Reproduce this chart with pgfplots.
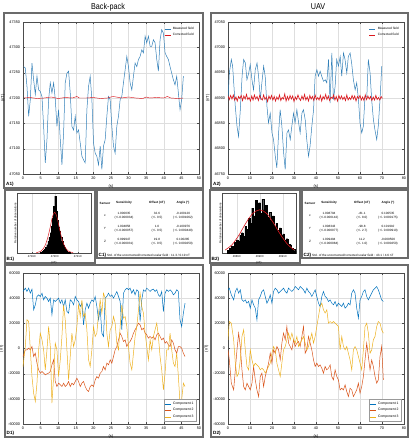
\documentclass[border=0pt]{standalone}
\usepackage{fontspec}
\setmainfont{Liberation Sans}
\usepackage{pgfplots}
\usepackage{pgfplotstable}
\pgfplotsset{compat=1.18}
\definecolor{mblue}{rgb}{0,0.447,0.741}
\definecolor{ablue}{rgb}{0.2,0.5,0.72}
\definecolor{morange}{rgb}{0.85,0.325,0.098}
\definecolor{myellow}{rgb}{0.929,0.694,0.125}
\definecolor{mred}{rgb}{0.86,0.1,0.12}
\definecolor{framegray}{gray}{0.42}

\pgfplotstableread{
t v
0.19 47262
0.66 47259
1.13 47223
1.61 47164
2.08 47197
2.55 47269
3.02 47236
3.50 47207
3.97 47243
4.44 47216
4.91 47213
5.39 47203
5.86 47144
6.33 47072
6.81 47118
7.28 47197
7.75 47230
8.22 47210
8.70 47230
9.17 47197
9.64 47144
10.11 47177
10.59 47118
11.06 47068
11.53 47131
12.00 47230
12.48 47249
12.95 47253
13.42 47210
13.89 47144
14.37 47137
14.84 47164
15.31 47131
15.78 47137
16.26 47111
16.73 47085
17.20 47078
17.67 47072
18.15 47177
18.62 47223
19.09 47243
19.57 47197
20.04 47111
20.51 47091
20.98 47085
21.46 47068
21.93 47105
22.40 47059
22.87 47105
23.35 47118
23.82 47164
24.29 47203
24.76 47197
25.24 47144
25.71 47105
26.18 47091
26.65 47144
27.13 47164
27.60 47197
28.07 47203
28.54 47230
29.02 47256
29.49 47282
29.96 47262
30.43 47230
30.91 47216
31.38 47243
31.85 47269
32.33 47262
32.80 47276
33.27 47282
33.74 47295
34.22 47289
34.69 47322
35.16 47309
35.63 47322
36.11 47302
36.58 47302
37.05 47315
37.52 47309
38.00 47276
38.47 47253
38.94 47315
39.41 47335
39.89 47328
40.36 47289
40.83 47282
41.30 47276
41.78 47262
42.25 47249
42.72 47236
43.19 47226
43.67 47243
44.14 47210
44.61 47177
45.08 47197
45.56 47243
}\tabAone

\pgfplotstableread{
t v
0.2 47200
2 47201
4 47199
6 47200
8 47202
10 47199
12 47201
14 47200
15.3 47203
16 47200
18 47200
20 47201
22 47199
24 47200
25.5 47203
26.5 47202
28 47200
30 47202
32 47200
34 47199
35 47202
36 47200
38 47201
40 47200
41 47203
42 47200
44 47199
45.5 47200
}\tabAonec

\pgfplotstableread{
t v
0.0 46897
0.6 46949
1.5 46976
2.1 46963
2.7 46923
3.3 46884
4.1 46844
4.8 46824
5.6 46877
6.4 46943
7.1 46976
7.9 46969
8.6 46936
9.4 46949
10.1 46966
10.9 46936
11.6 46916
12.4 46956
13.2 46969
13.9 46943
14.7 46897
15.4 46930
16.2 46963
16.9 46943
17.7 46884
18.4 46851
19.2 46870
20.0 46831
20.7 46818
21.5 46785
22.2 46762
23.0 46831
23.7 46877
24.5 46844
25.3 46791
26.0 46759
26.8 46831
27.5 46837
28.3 46818
29.0 46844
29.8 46870
30.5 46851
31.3 46877
32.1 46851
32.8 46831
33.6 46870
34.3 46877
35.1 46857
35.8 46818
36.6 46785
37.3 46805
38.1 46844
38.9 46877
39.6 46943
40.4 46956
41.1 46943
41.9 46953
42.6 46943
43.4 46933
44.2 46936
44.9 46930
45.7 46976
46.4 46890
47.2 46989
47.9 46897
48.7 46923
49.4 46976
50.2 46963
51.0 46982
51.7 46943
52.5 46989
53.2 46976
54.0 46949
54.7 46982
55.5 46989
56.2 46969
57.0 46936
57.8 46916
58.5 46930
59.3 46897
60.0 46851
60.8 46831
61.5 46844
62.3 46903
63.1 46903
63.8 46976
64.6 46949
65.3 46897
66.1 46857
66.8 46837
67.6 46818
68.3 46844
69.1 46897
69.9 46963
}\tabAtwo

\pgfplotstableread{
t v
0.0 46904
0.6 46897
1.2 46905
1.8 46898
2.4 46906
3.0 46896
3.6 46902
4.2 46894
4.8 46903
5.4 46899
6.0 46905
6.6 46895
7.2 46904
7.8 46898
8.4 46907
9.0 46897
9.6 46901
10.2 46894
10.8 46904
11.4 46896
12.0 46906
12.6 46898
13.2 46903
13.8 46895
14.4 46905
15.0 46899
15.6 46896
16.2 46906
16.8 46897
17.4 46902
18.0 46893
18.6 46904
19.2 46898
19.8 46905
20.4 46896
21.0 46903
21.6 46894
22.2 46902
22.8 46897
23.4 46906
24.0 46895
24.6 46901
25.2 46898
25.8 46908
26.4 46894
27.0 46903
27.6 46896
28.2 46905
28.8 46898
29.4 46904
30.0 46893
30.6 46902
31.2 46897
31.8 46906
32.4 46899
33.0 46895
33.6 46904
34.2 46897
34.8 46907
35.4 46896
36.0 46902
36.6 46894
37.2 46905
37.8 46898
38.4 46903
39.0 46895
39.6 46906
40.2 46897
40.8 46901
41.4 46896
42.0 46905
42.6 46894
43.2 46903
43.8 46898
44.4 46907
45.0 46897
45.6 46904
46.2 46895
46.8 46902
47.4 46899
48.0 46906
48.6 46896
49.2 46903
49.8 46894
50.4 46905
51.0 46898
51.6 46904
52.2 46897
52.8 46902
53.4 46895
54.0 46906
54.6 46896
55.2 46901
55.8 46897
56.4 46905
57.0 46898
57.6 46904
58.2 46894
58.8 46903
59.4 46899
60.0 46905
60.6 46896
61.2 46902
61.8 46895
62.4 46906
63.0 46897
63.6 46904
64.2 46898
64.8 46903
65.4 46895
66.0 46902
66.6 46896
67.2 46905
67.8 46897
68.4 46901
69.0 46896
69.6 46903
70.2 46899
}\tabAtwoc

\pgfplotstableread{
t c1 c2 c3
0.00 45315 -6360 -14310
0.66 47965 -1060 1590
1.13 45315 -1060 22790
1.61 47965 265 21465
2.08 43990 -1060 -1060
2.55 47170 1590 -22260
3.02 30740 -6360 -35510
3.50 34715 -3710 -42135
3.97 41340 -11660 -27560
4.44 42665 -16960 -1060
4.91 41340 -19610 12190
5.39 43990 -18285 6890
5.86 38690 -19610 -1060
6.33 41340 -20935 -16960
6.81 40015 -20140 -1060
7.28 37365 -19610 17490
7.75 40015 -18285 1590
8.22 26765 -12985 -43460
8.70 38690 -9010 -22260
9.17 37365 -26235 4240
9.64 38690 -30210 -1060
10.11 40015 -27560 -22260
10.59 36040 -28885 -9010
11.06 38690 -30210 9540
11.53 33390 -27560 34715
12.00 38690 -30210 22790
12.48 29415 -28885 -1060
12.95 28090 -26235 -24910
13.42 38690 -30210 -6360
13.89 37365 -27560 12190
14.37 34715 -28885 1590
14.84 41340 -26235 6890
15.31 38690 -23585 17490
15.78 37365 -26235 34715
16.26 33390 -30210 25440
16.73 36040 -27560 38690
17.20 18815 -26235 25440
17.67 30740 -30210 28090
18.15 36040 -32860 14840
18.62 32065 -34185 -9010
19.09 36040 -30210 -14310
19.57 38690 -28885 -1060
20.04 37365 -30210 17490
20.51 41340 -24910 9540
20.98 33390 -22260 12190
21.46 22790 -23585 28090
21.93 32065 -19610 38690
22.40 12190 -18285 28090
22.87 9540 -14310 43990
23.35 40015 -16960 40015
23.82 41340 -11660 12190
24.29 43990 -12985 1590
24.76 41340 -9010 14840
25.24 42665 -11660 17490
25.71 40015 -6360 25440
26.18 42665 -1060 20140
26.65 45315 1590 4240
27.13 41340 6890 -1060
27.60 37365 12190 17490
28.07 14840 9540 34715
28.54 43990 5565 24115
29.02 46640 6890 25440
29.49 47965 1590 17490
29.96 46640 4240 1590
30.43 47965 5565 -11660
30.91 43990 8215 -16960
31.38 46640 12190 -3710
31.85 42665 14840 9540
32.33 46640 17490 17490
32.80 45315 20140 30740
33.27 21465 18815 43990
33.74 38690 14840 33390
34.22 46640 16165 28090
34.69 45315 12190 12190
35.16 47965 10865 1590
35.63 46640 8215 -9010
36.11 45315 9540 6890
36.58 46640 8215 -1060
37.05 47170 9540 9540
37.52 45315 6890 14840
38.00 46640 10865 20140
38.47 42665 12190 9540
38.94 41340 9540 -6360
39.41 45315 6890 -16960
39.89 29415 8215 -32860
40.36 43990 4240 -19610
40.83 46640 5565 -1060
41.30 45315 2915 -1060
41.78 46640 1590 12190
42.25 45315 6890 -1060
42.72 42665 4240 -11660
43.19 43990 -1060 -14310
43.67 46640 -3710 -3710
44.14 45315 1590 -22260
44.61 22790 1590 -43460
45.08 17490 265 -40810
45.56 28090 -3710 -27560
46.03 36040 -6360 -30210
}\tabDone

\pgfplotstableread{
t c1 c2 c3
0.00 46640 -1060 6890
0.60 47965 -9010 21465
1.51 42665 -27560 20140
2.57 38690 -32860 6890
3.33 45315 -16960 -11660
4.08 47965 -1060 -22260
4.84 43990 12190 -19610
5.59 46640 1590 -9010
6.35 38690 -16960 9540
7.11 37365 -30210 14840
7.86 38690 -32860 -1060
8.62 36040 -27560 -14310
9.37 37365 -30210 -16960
10.13 32065 -32860 -1060
10.89 38690 -27560 -9010
11.64 34715 -14310 -14310
12.40 32065 -24910 -11660
13.15 22790 -32860 -12985
13.91 38690 -38160 -14310
14.67 41340 -22260 -16960
15.42 45315 -19610 -15635
16.18 46640 -30210 -16960
16.93 41340 -22260 -19610
17.69 36040 -16960 -16960
18.45 38690 -11660 -14310
19.20 42665 -3710 -11660
19.96 36040 -11660 -3710
20.71 45315 -1060 1590
21.47 47965 -3710 -1060
22.23 46640 1590 -11660
22.98 43990 -1060 -16960
23.74 45315 -9010 -22260
24.49 46640 4240 -11660
25.25 47965 12190 -1060
26.01 45315 6890 1590
26.76 43990 17490 6890
27.52 47965 4240 12190
28.27 46640 1590 6890
29.03 45315 -1060 12190
29.79 46640 6890 6890
30.54 49290 1590 4240
31.30 47965 4240 9540
32.05 46640 5565 1590
32.81 49290 1590 4240
33.57 47965 9540 6890
34.32 46640 17490 9540
35.08 43990 -3710 4240
35.83 47965 -1060 -1060
36.59 45315 9540 1590
37.35 43990 4240 6890
38.10 41340 -1060 12190
38.86 43990 -9010 4240
39.61 46640 -14310 9540
40.37 41340 -11660 17490
41.13 36040 -14310 25440
41.88 33390 -12985 33390
42.64 41340 -15635 36040
43.39 45315 -19610 30740
44.15 41340 -14310 28090
44.91 40015 -16960 30740
45.66 37365 -15635 20140
46.42 38690 -12985 21465
47.17 36040 -22260 20140
47.93 34715 -24910 21465
48.69 37365 -16960 20140
49.44 33390 -22260 18815
50.20 36040 -24910 17490
50.95 34715 -32860 -1060
51.71 33390 -31535 9540
52.47 36040 -32860 1590
53.22 32065 -28885 -1060
53.98 33390 -34185 1590
54.73 36040 -38160 -3710
55.49 34715 -31535 -9010
56.25 43990 -32860 -16960
57.00 46640 -38160 -1060
57.76 43990 -35510 1590
58.51 32065 -32860 -1060
59.27 24115 -27560 -6360
60.03 38690 -35510 -11660
60.78 41340 -30210 -16960
61.54 45315 -22260 -1060
62.29 46640 -9010 17490
63.05 41340 4240 20140
63.81 38690 -6360 12190
64.56 41340 -16960 -3710
65.32 43990 -9010 -1060
66.07 46640 -14310 6890
66.83 47965 -22260 9540
67.59 49290 -27560 17490
68.34 46640 -24910 21465
69.10 42665 -6360 20140
69.85 38690 1590 14840
70.61 37365 -24910 12190
}\tabDtwo

\pgfplotstableread{
x h
47193.5 0.01
47194.0 0.02
47194.5 0.03
47195.0 0.05
47195.5 0.07
47196.0 0.10
47196.5 0.14
47197.0 0.20
47197.5 0.26
47198.0 0.34
47198.5 0.45
47199.0 0.58
47199.5 0.78
47200.0 0.95
47200.5 0.70
47201.0 0.55
47201.5 0.44
47202.0 0.36
47202.5 0.27
47203.0 0.20
47203.5 0.14
47204.0 0.10
47204.5 0.06
47205.0 0.04
47205.5 0.02
47206.0 0.01
47206.5 0.01
}\tabBone

\pgfplotstableread{
x h
46886.00 0.05
46886.75 0.08
46887.50 0.12
46888.25 0.10
46889.00 0.18
46889.75 0.22
46890.50 0.20
46891.25 0.30
46892.00 0.34
46892.75 0.28
46893.50 0.45
46894.25 0.40
46895.00 0.58
46895.75 0.50
46896.50 0.75
46897.25 0.62
46898.00 0.88
46898.75 0.70
46899.50 0.84
46900.25 0.66
46901.00 0.90
46901.75 0.72
46902.50 0.80
46903.25 0.60
46904.00 0.68
46904.75 0.55
46905.50 0.62
46906.25 0.45
46907.00 0.50
46907.75 0.38
46908.50 0.42
46909.25 0.30
46910.00 0.32
46910.75 0.22
46911.50 0.24
46912.25 0.15
46913.00 0.14
46913.75 0.08
46914.50 0.06
46915.25 0.03
46916.00 0.03
}\tabBtwo

\pgfplotsset{
  panel/.style={
    scale only axis, anchor=south west,
    axis line style={black!70, line width=0.3pt},
    every tick/.style={black!70, line width=0.25pt},
    major tick length=1.6pt,
    tick align=inside,
    grid=major,
    grid style={black!13, line width=0.25pt},
    tick label style={font=\fontsize{3.8}{4}\selectfont},
    xticklabel style={yshift=0.6pt},
    yticklabel style={xshift=0.6pt},
    label style={font=\fontsize{4}{4.5}\selectfont},
    xlabel style={yshift=2.2pt},
    ylabel style={yshift=-2pt},
    /pgf/number format/assume math mode=true,
    /pgf/number format/1000 sep={},
    scaled ticks=false,
    legend cell align=left,
    legend image code/.code={\draw[##1] (0pt,0pt) -- (6pt,0pt);},
  },
  hist/.style={
    scale only axis, anchor=south west,
    axis line style={black!70, line width=0.3pt},
    every tick/.style={black!70, line width=0.25pt},
    major tick length=1.2pt,
    tick align=inside,
    xmajorgrids, grid style={black!13, line width=0.25pt},
    tick label style={font=\fontsize{2.8}{3}\selectfont},
    xticklabel style={yshift=0.8pt},
    label style={font=\fontsize{2.8}{3}\selectfont},
    xlabel style={yshift=3.6pt},
    ylabel style={yshift=-3pt},
    /pgf/number format/assume math mode=true,
    /pgf/number format/1000 sep={},
    scaled ticks=false,
    ymin=0, ymax=1, ytick=\empty,
    width=74pt, height=60pt,
  },
}
\tikzset{plab/.style={font=\fontsize{4.6}{5}\selectfont\bfseries, inner sep=0pt, anchor=west},
  tcell/.style={font=\fontsize{3.1}{3.6}\selectfont, align=center, inner sep=0pt},
  thead/.style={font=\fontsize{3.1}{3.6}\selectfont\bfseries, inner sep=0pt}}

\begin{document}
\begin{tikzpicture}[x=1pt,y=1pt]
\useasboundingbox (0,0) rectangle (413,-439);
% titles
\node[font=\fontsize{8.5}{9}\selectfont, xscale=0.85] at (108,-7) {Back-pack};
\node[font=\fontsize{8.5}{9}\selectfont, xscale=0.85] at (318,-7) {UAV};

% frames
\begin{scope}[framegray, line width=1.2pt]
\draw (4,-13) rectangle (203,-188);
\draw (211,-13) rectangle (408,-188);
\draw (5,-190) rectangle (95,-263);
\draw (97,-190) rectangle (203,-258);
\draw (210,-190) rectangle (300,-263);
\draw (302,-190) rectangle (408,-258);
\draw (5,-265) rectangle (203,-437);
\draw (211,-265) rectangle (408,-437);
\end{scope}

% A1
\begin{axis}[panel, at={(23pt,-174pt)}, width=176pt, height=152pt,
  xmin=0, xmax=50, xtick={0,5,...,50},
  ymin=47050, ymax=47350, ytick={47050,47100,...,47350},
  xlabel={(s)}, ylabel={(nT)},
  legend style={font=\fontsize{3.2}{3.5}\selectfont, draw=none, fill=none, inner sep=0.4pt, row sep=-1.6pt, at={(0.985,0.985)}, anchor=north east}]
\addplot[ablue, line width=0.5pt] table[x=t,y=v] {\tabAone};
\addplot[mred, line width=0.45pt] table[x=t,y=v] {\tabAonec};
\legend{Measured field, Corrected field}
\end{axis}

% A2
\begin{axis}[panel, at={(228pt,-174pt)}, width=176pt, height=152pt,
  xmin=0, xmax=80, xtick={0,10,...,80},
  ymin=46750, ymax=47050, ytick={46750,46800,...,47050},
  xlabel={(s)}, ylabel={(nT)},
  legend style={font=\fontsize{3.2}{3.5}\selectfont, draw=none, fill=none, inner sep=0.4pt, row sep=-1.6pt, at={(0.985,0.985)}, anchor=north east}]
\addplot[ablue, line width=0.5pt] table[x=t,y=v] {\tabAtwo};
\addplot[mred, line width=0.65pt] table[x=t,y=v] {\tabAtwoc};
\legend{Measured field, Corrected field}
\end{axis}

% B1
\begin{axis}[hist, at={(17pt,-253pt)},
  xmin=47183.6, xmax=47215.8, xtick={47190,47200,47210},
  xlabel={(nT)}, ylabel={Relative number of observations}]
\addplot[ybar interval, fill=black, draw=black, line width=0.1pt] table[x=x,y=h] {\tabBone};
\addplot[mred, line width=0.5pt, smooth] coordinates {(47192,0.005) (47194,0.03) (47195,0.07) (47196,0.14) (47197,0.26) (47198,0.42) (47199,0.6) (47200,0.68) (47201,0.6) (47202,0.42) (47203,0.26) (47204,0.14) (47205,0.07) (47206,0.03) (47208,0.005)};
\end{axis}

% B2
\begin{axis}[hist, at={(222pt,-253pt)},
  xmin=46883.6, xmax=46915.8, xtick={46890,46900,46910},
  xlabel={(nT)}, ylabel={Relative number of observations}]
\addplot[ybar interval, fill=black, draw=black, line width=0.1pt] table[x=x,y=h] {\tabBtwo};
\addplot[mred, line width=0.6pt, smooth] coordinates {(46885,0.05) (46888,0.14) (46891,0.30) (46894,0.50) (46897,0.66) (46900,0.72) (46903,0.66) (46906,0.50) (46909,0.31) (46912,0.15) (46915,0.05)};
\end{axis}

% D1
\begin{axis}[panel, at={(23pt,-424pt)}, width=176pt, height=151pt,
  xmin=0, xmax=50, xtick={0,5,...,50},
  ymin=-60000, ymax=60000, ytick={-60000,-40000,...,60000},
  xlabel={(s)}, ylabel={(nT)},
  legend style={font=\fontsize{3.4}{3.8}\selectfont, draw=black!40, fill=white, inner sep=0.6pt, row sep=-1.4pt, at={(0.985,0.015)}, anchor=south east}]
\addplot[mblue, line width=0.5pt] table[x=t,y=c1] {\tabDone};
\addplot[morange, line width=0.5pt] table[x=t,y=c2] {\tabDone};
\addplot[myellow, line width=0.5pt] table[x=t,y=c3] {\tabDone};
\legend{Component 1, Component 2, Component 3}
\end{axis}

% D2
\begin{axis}[panel, at={(228pt,-424pt)}, width=176pt, height=151pt,
  xmin=0, xmax=80, xtick={0,10,...,80},
  ymin=-60000, ymax=60000, ytick={-60000,-40000,...,60000},
  xlabel={(s)}, ylabel={(nT)},
  legend style={font=\fontsize{3.4}{3.8}\selectfont, draw=black!40, fill=white, inner sep=0.6pt, row sep=-1.4pt, at={(0.985,0.015)}, anchor=south east}]
\addplot[mblue, line width=0.5pt] table[x=t,y=c1] {\tabDtwo};
\addplot[morange, line width=0.5pt] table[x=t,y=c2] {\tabDtwo};
\addplot[myellow, line width=0.5pt] table[x=t,y=c3] {\tabDtwo};
\legend{Component 1, Component 2, Component 3}
\end{axis}

% panel labels
\node[plab] at (6,-184.5) {A1)};
\node[plab] at (213,-184.5) {A2)};
\node[plab] at (6.5,-259.5) {B1)};
\node[plab] at (211.5,-259.5) {B2)};
\node[plab] at (6.5,-433.5) {D1)};
\node[plab] at (213,-433.5) {D2)};

% table C1
\node[thead] at (105,-203) {Sensor};
\node[thead] at (124,-203) {Sensitivity};
\node[thead] at (157,-203) {Offset (nT)};
\node[thead] at (183,-203) {Angle (°)};
\node[tcell] at (105,-215.5) {x};
\node[tcell] at (105,-228.5) {Y};
\node[tcell] at (105,-241.5) {Z};
\node[tcell] at (124,-215.5) {1.000035\\(+/-0.000034)};
\node[tcell] at (124,-228.5) {1.004858\\(+/-0.000057)};
\node[tcell] at (124,-241.5) {0.999947\\(+/-0.000031)};
\node[tcell] at (157,-215.5) {32.6\\(+/- 0.5)};
\node[tcell] at (157,-228.5) {1.0\\(+/- 0.5)};
\node[tcell] at (157,-241.5) {19.8\\(+/- 0.5)};
\node[tcell] at (183,-215.5) {-0.100120\\(+/- 0.001062)};
\node[tcell] at (183,-228.5) {-0.100976\\(+/- 0.000440)};
\node[tcell] at (183,-241.5) {0.100285\\(+/- 0.000250)};
\node[plab] at (98.5,-255) {C1)};
\node[tcell, anchor=west] at (107,-255) {Std. of the uncorrected/corrected scalar field : 11.3 / 0.19 nT};

% table C2
\node[thead] at (310,-203) {Sensor};
\node[thead] at (329,-203) {Sensitivity};
\node[thead] at (362,-203) {Offset (nT)};
\node[thead] at (388,-203) {Angle (°)};
\node[tcell] at (310,-215.5) {x};
\node[tcell] at (310,-228.5) {Y};
\node[tcell] at (310,-241.5) {Z};
\node[tcell] at (329,-215.5) {1.008794\\(+/-0.000142)};
\node[tcell] at (329,-228.5) {1.008343\\(+/-0.000077)};
\node[tcell] at (329,-241.5) {1.009494\\(+/-0.000084)};
\node[tcell] at (362,-215.5) {-81.1\\(+/- 8.0)};
\node[tcell] at (362,-228.5) {-98.8\\(+/- 2.7)};
\node[tcell] at (362,-241.5) {11.2\\(+/- 1.0)};
\node[tcell] at (388,-215.5) {0.100535\\(+/- 0.000175)};
\node[tcell] at (388,-228.5) {0.101910\\(+/- 0.000910)};
\node[tcell] at (388,-241.5) {-0.009500\\(+/- 0.000250)};
\node[plab] at (303.5,-255) {C2)};
\node[tcell, anchor=west] at (312,-255) {Std. of the uncorrected/corrected scalar field : 43.1 / 4.6 nT};
\end{tikzpicture}
\end{document}
